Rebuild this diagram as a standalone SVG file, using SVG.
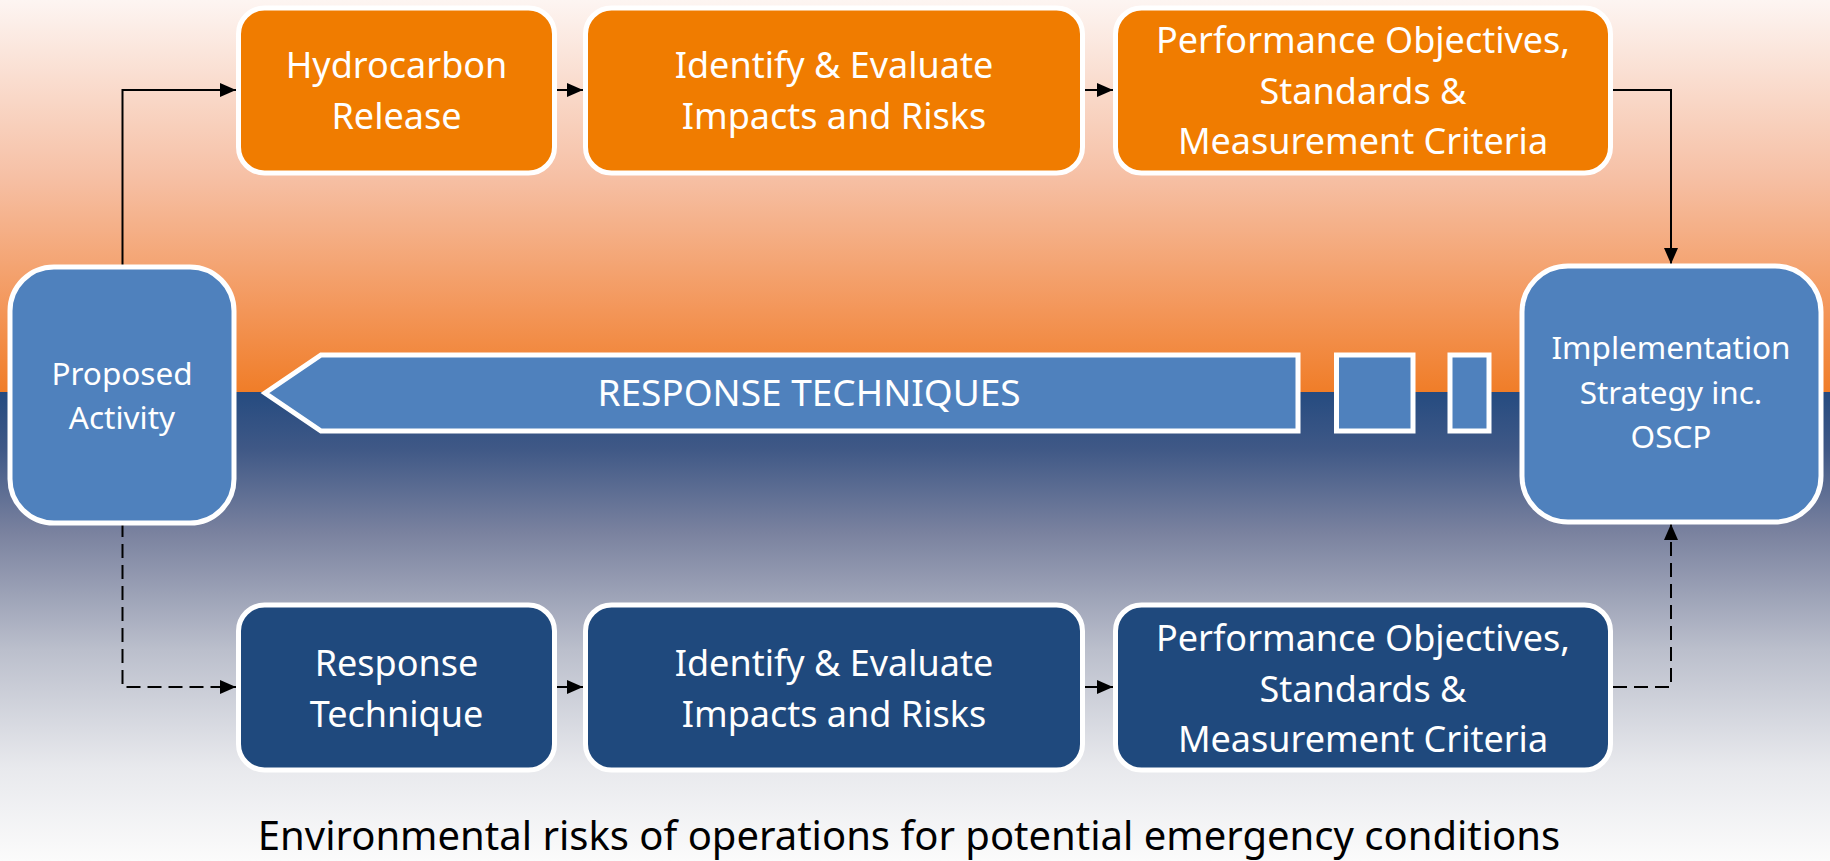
<svg xmlns="http://www.w3.org/2000/svg" width="1830" height="861" viewBox="0 0 1830 861">
  <defs>
    <linearGradient id="skyGrad" x1="0" y1="0" x2="0" y2="1">
      <stop offset="0" stop-color="#fdf5f2"/>
      <stop offset="0.45" stop-color="#f6c0a5"/>
      <stop offset="0.8" stop-color="#f39557"/>
      <stop offset="1" stop-color="#f07d28"/>
    </linearGradient>
    <linearGradient id="seaGrad" x1="0" y1="0" x2="0" y2="1">
      <stop offset="0" stop-color="#254b80"/>
      <stop offset="0.12" stop-color="#3f5886"/>
      <stop offset="0.3" stop-color="#7a829f"/>
      <stop offset="0.55" stop-color="#bbbfcc"/>
      <stop offset="0.8" stop-color="#e8e9ed"/>
      <stop offset="1" stop-color="#fbfbfb"/>
    </linearGradient>
    <marker id="arrowHead" markerUnits="userSpaceOnUse" markerWidth="16" markerHeight="14" refX="16" refY="7" orient="auto">
      <path d="M0,0 L16,7 L0,14 Z" fill="#000"/>
    </marker>
    <style>
      .box { stroke: #ffffff; stroke-width: 5; }
      .orange { fill: #f07c00; }
      .navy { fill: #1f497d; }
      .steel { fill: #4f81bd; }
      .label { font-family: "Noto Sans", "Open Sans", sans-serif; fill: #ffffff; text-anchor: middle; }
      .big { font-size: 36px; }
      .small { font-size: 31.5px; }
      .conn { fill: none; stroke: #000; stroke-width: 2; }
      .dashed { stroke-dasharray: 14 7; }
      .caption { font-family: "Noto Sans", "Open Sans", sans-serif; font-size: 40px; fill: #000; text-anchor: middle; }
    </style>
  </defs>

  <!-- background: sky above the waterline, sea below -->
  <rect x="0" y="0" width="1830" height="392" fill="url(#skyGrad)"/>
  <rect x="0" y="392" width="1830" height="469" fill="url(#seaGrad)"/>

  <!-- connectors -->
  <g id="connectors">
    <path class="conn" d="M122.5,267 V90 H236" marker-end="url(#arrowHead)"/>
    <path class="conn" d="M557,90 H583" marker-end="url(#arrowHead)"/>
    <path class="conn" d="M1085,90 H1113" marker-end="url(#arrowHead)"/>
    <path class="conn" d="M1613,90 H1671 V264" marker-end="url(#arrowHead)"/>
    <path class="conn dashed" d="M122.5,523 V687 H236" marker-end="url(#arrowHead)"/>
    <path class="conn" d="M557,687 H583" marker-end="url(#arrowHead)"/>
    <path class="conn" d="M1085,687 H1113" marker-end="url(#arrowHead)"/>
    <path class="conn dashed" d="M1613,687 H1671 V524" marker-end="url(#arrowHead)"/>
  </g>

  <!-- response techniques band -->
  <g id="response-techniques">
    <polygon class="box steel" points="265,393 321,355 1298,355 1298,431 321,431"/>
    <rect class="box steel" x="1336.5" y="355" width="76.5" height="76"/>
    <rect class="box steel" x="1450" y="355" width="39" height="76"/>
    <text class="label" x="809" y="406" font-size="37">RESPONSE TECHNIQUES</text>
  </g>

  <g id="proposed-activity">
    <rect class="box steel" x="10" y="267" width="224" height="256" rx="44" ry="44"/>
    <text class="label small" x="122" y="385">Proposed</text>
    <text class="label small" x="122" y="429">Activity</text>
  </g>

  <g id="implementation-strategy">
    <rect class="box steel" x="1522" y="266" width="299" height="256" rx="46" ry="46"/>
    <text class="label small" x="1671" y="359">Implementation</text>
    <text class="label small" x="1671" y="404">Strategy inc.</text>
    <text class="label small" x="1671" y="448">OSCP</text>
  </g>

  <!-- hydrocarbon release pathway -->
  <g id="hydrocarbon-release">
    <rect class="box orange" x="238.5" y="8" width="316" height="165" rx="26" ry="26"/>
    <text class="label big" x="396.5" y="78">Hydrocarbon</text>
    <text class="label big" x="396.5" y="129">Release</text>
  </g>

  <g id="release-impacts">
    <rect class="box orange" x="585.5" y="8" width="497" height="165" rx="26" ry="26"/>
    <text class="label big" x="834" y="78">Identify &amp; Evaluate</text>
    <text class="label big" x="834" y="129">Impacts and Risks</text>
  </g>

  <g id="release-objectives">
    <rect class="box orange" x="1115.5" y="8" width="495" height="165" rx="26" ry="26"/>
    <text class="label big" x="1363" y="53">Performance Objectives,</text>
    <text class="label big" x="1363" y="104">Standards &amp;</text>
    <text class="label big" x="1363" y="154">Measurement Criteria</text>
  </g>

  <!-- response technique pathway -->
  <g id="response-technique">
    <rect class="box navy" x="238.5" y="605" width="316" height="165" rx="26" ry="26"/>
    <text class="label big" x="396.5" y="675.5">Response</text>
    <text class="label big" x="396.5" y="726.5">Technique</text>
  </g>

  <g id="response-impacts">
    <rect class="box navy" x="585.5" y="605" width="497" height="165" rx="26" ry="26"/>
    <text class="label big" x="834" y="675.5">Identify &amp; Evaluate</text>
    <text class="label big" x="834" y="726.5">Impacts and Risks</text>
  </g>

  <g id="response-objectives">
    <rect class="box navy" x="1115.5" y="605" width="495" height="165" rx="26" ry="26"/>
    <text class="label big" x="1363" y="650.5">Performance Objectives,</text>
    <text class="label big" x="1363" y="701.5">Standards &amp;</text>
    <text class="label big" x="1363" y="751.5">Measurement Criteria</text>
  </g>

  <text class="caption" x="909" y="850">Environmental risks of operations for potential emergency conditions</text>
</svg>
